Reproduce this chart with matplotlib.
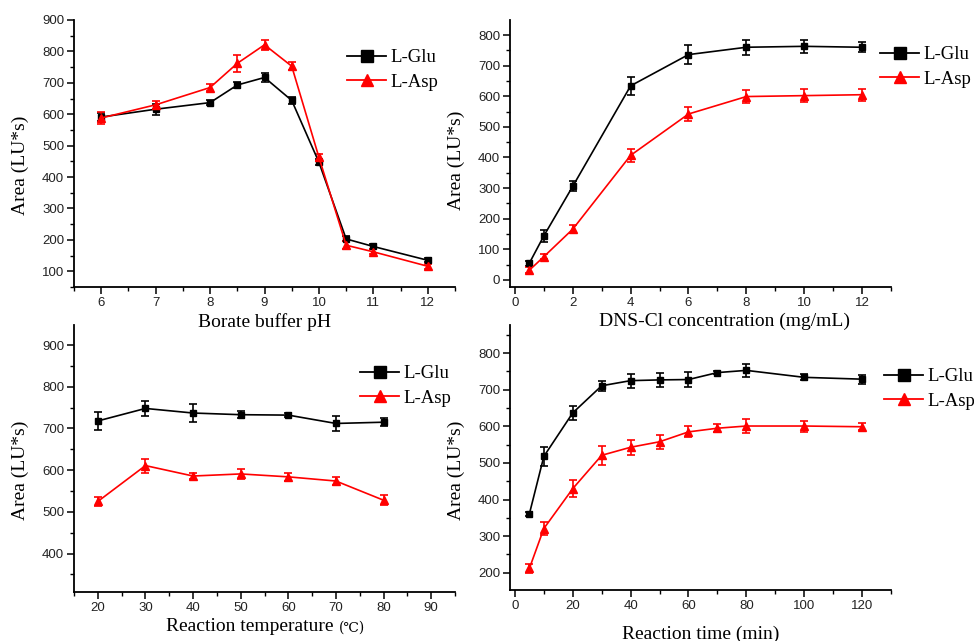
import matplotlib
matplotlib.use("Agg")
import matplotlib.pyplot as plt
from matplotlib.ticker import MultipleLocator
from matplotlib.lines import Line2D

# ---------------- data ----------------
ph = [6, 7, 8, 8.5, 9, 9.5, 10, 10.5, 11, 12]
ph_glu = [591, 616, 637, 693, 717, 644, 447, 203, 179, 135]
ph_glu_err = [12, 18, 8, 10, 15, 10, 10, 8, 8, 6]
ph_asp = [588, 630, 685, 762, 821, 753, 463, 183, 162, 116]
ph_asp_err = [18, 12, 12, 28, 16, 12, 12, 12, 8, 8]

conc = [0.5, 1, 2, 4, 6, 8, 10, 12]
conc_glu = [55, 144, 306, 634, 736, 760, 763, 760]
conc_glu_err = [8, 20, 16, 29, 32, 25, 22, 16]
conc_asp = [32, 76, 166, 407, 542, 599, 602, 605]
conc_asp_err = [10, 8, 14, 22, 22, 20, 22, 20]

temp = [20, 30, 40, 50, 60, 70, 80]
temp_glu = [718, 748, 737, 733, 732, 712, 715]
temp_glu_err = [21, 18, 22, 9, 5, 19, 9]
temp_asp = [525, 611, 586, 591, 584, 574, 528]
temp_asp_err = [11, 17, 8, 11, 9, 10, 12]

rtime = [5, 10, 20, 30, 40, 50, 60, 70, 80, 100, 120]
time_glu = [361, 518, 637, 711, 725, 727, 728, 747, 753, 734, 729]
time_glu_err = [5, 26, 19, 14, 19, 19, 20, 5, 17, 8, 12]
time_asp = [212, 321, 430, 521, 543, 558, 585, 595, 601, 601, 599]
time_asp_err = [12, 19, 23, 26, 21, 19, 15, 11, 18, 15, 10]

labels = ["L-Glu", "L-Asp"]

# ---------------- style ----------------
SERIF = ["Liberation Serif", "DejaVu Serif"]
SANS = ["Liberation Sans", "DejaVu Sans"]
plt.rcParams["font.family"] = SERIF

fig = plt.figure(figsize=(9.74, 6.41), dpi=100)

L1, R1 = 74 / 974, 455 / 974
L2, R2 = 510 / 974, 891 / 974

panels = [
    dict(rect=[L1, 1 - 287 / 641, R1 - L1, (287 - 20) / 641],
         x=ph, g=ph_glu, ge=ph_glu_err, a=ph_asp, ae=ph_asp_err,
         xlim=(5.5, 12.5), ylim=(50, 900), xmaj=1, xmin=0.5, ymaj=100, ymin=50,
         xlabel="Borate buffer pH", xl=(0.5, -0.097), yl=(-0.117, 0.457),
         leg=(347 / 974, 1 - 49 / 641)),
    dict(rect=[L2, 1 - 287 / 641, R2 - L2, (287 - 20) / 641],
         x=conc, g=conc_glu, ge=conc_glu_err, a=conc_asp, ae=conc_asp_err,
         xlim=(-0.17, 13.0), ylim=(-23, 849), xmaj=2, xmin=1, ymaj=100, ymin=50,
         xlabel="DNS-Cl concentration (mg/mL)", xl=(0.564, -0.097), yl=(-0.118, 0.476),
         leg=(880 / 974, 1 - 46 / 641)),
    dict(rect=[L1, 1 - 592 / 641, R1 - L1, (592 - 325) / 641],
         x=temp, g=temp_glu, ge=temp_glu_err, a=temp_asp, ae=temp_asp_err,
         xlim=(15, 95), ylim=(308, 948), xmaj=10, xmin=5, ymaj=100, ymin=50,
         xlabel="Reaction temperature", xl=(0.46, -0.097), yl=(-0.117, 0.457),
         leg=(360 / 974, 1 - 365 / 641)),
    dict(rect=[L2, 1 - 590 / 641, R2 - L2, (590 - 325) / 641],
         x=rtime, g=time_glu, ge=time_glu_err, a=time_asp, ae=time_asp_err,
         xlim=(-1.7, 130), ylim=(153, 877), xmaj=20, xmin=10, ymaj=100, ymin=50,
         xlabel="Reaction time (min)", xl=(0.5, -0.134), yl=(-0.118, 0.453),
         leg=(884 / 974, 1 - 368 / 641)),
]

handles = [
    Line2D([], [], color="black", marker="s", markersize=8, lw=1.3),
    Line2D([], [], color="#ff0000", marker="^", markersize=9, lw=1.3),
]

for i, p in enumerate(panels):
    ax = fig.add_axes(p["rect"])
    ax.patch.set_visible(False)
    ax.errorbar(p["x"], p["g"], yerr=p["ge"], color="black", marker="s",
                markersize=5, lw=1.2, elinewidth=1.2, capsize=3, capthick=1.2)
    ax.errorbar(p["x"], p["a"], yerr=p["ae"], color="#ff0000", marker="^",
                markersize=6, lw=1.2, elinewidth=1.2, capsize=3, capthick=1.2)
    ax.set_xlim(*p["xlim"])
    ax.set_ylim(*p["ylim"])
    ax.xaxis.set_major_locator(MultipleLocator(p["xmaj"]))
    ax.xaxis.set_minor_locator(MultipleLocator(p["xmin"]))
    ax.yaxis.set_major_locator(MultipleLocator(p["ymaj"]))
    ax.yaxis.set_minor_locator(MultipleLocator(p["ymin"]))
    for s in ("top", "right"):
        ax.spines[s].set_visible(False)
    for s in ("left", "bottom"):
        ax.spines[s].set_linewidth(1.3)
    ax.tick_params(which="major", direction="out", length=5, width=1.1, labelsize=9.5, pad=2)
    ax.tick_params(which="minor", direction="out", length=3, width=1.0)
    for t in ax.get_xticklabels() + ax.get_yticklabels():
        t.set_fontfamily(SANS)
        t.set_color("#222222")
    ax.set_ylabel("Area (LU*s)", fontsize=14)
    xlab = ax.set_xlabel(p["xlabel"], fontsize=14)
    ax.xaxis.set_label_coords(*p["xl"])
    ax.yaxis.set_label_coords(*p["yl"])
    if i == 2:
        ax.annotate("(\u2103)", xy=(1, 0), xycoords=xlab, xytext=(4, 0),
                    textcoords="offset points", ha="left", va="bottom",
                    fontsize=10, family=["DejaVu Serif", "DejaVu Sans"])
    ax.legend(handles, labels, loc="upper left", bbox_to_anchor=p["leg"],
              bbox_transform=fig.transFigure,
              frameon=False, fontsize=13.5, borderpad=0, borderaxespad=0,
              handlelength=2.1, handletextpad=0.2, labelspacing=0.4)

fig.savefig("out.png", dpi=100)
